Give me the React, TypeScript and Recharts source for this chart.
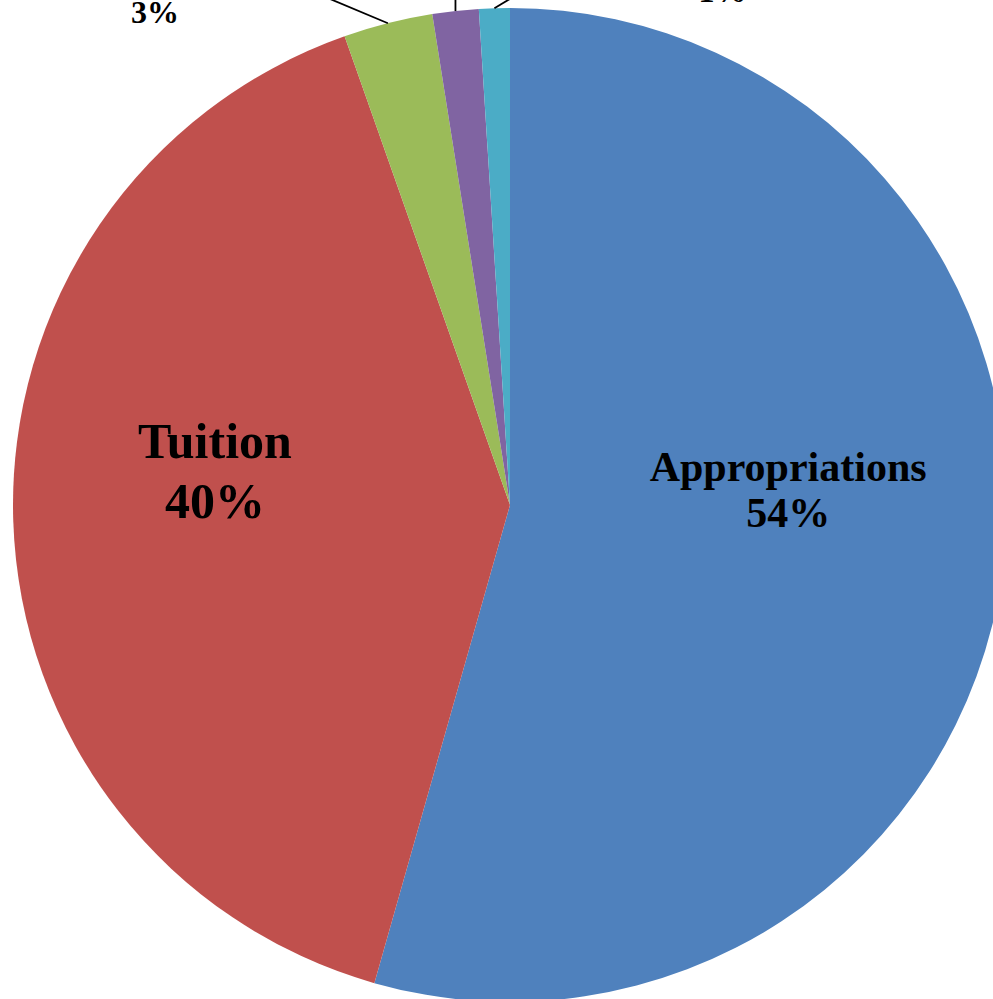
import React from 'react';
import { PieChart, Pie, Cell } from 'recharts';

const categories = ['Appropriations', 'Tuition', 'Grants', 'Gifts', 'Other'];
const shares = [54.4, 40.2, 2.9, 1.5, 1.0];
const colors = ['#4F81BD', '#C0504D', '#9BBB59', '#8064A2', '#4BACC6'];

const data = categories.map((name, i) => ({ name, value: shares[i] }));

const RADIAN = Math.PI / 180;
const SHIFT = 200; // chart is drawn taller and moved up so the top labels are cut off

// inner label placement for the two big slices
const inner: Record<number, { r: number; fs: number; d1: number; d2: number }> = {
  0: { r: 0.565, fs: 42, d1: -63, d2: 46 },
  1: { r: 0.594, fs: 50, d1: -56, d2: 60 }
};

// leader line ends and label spots for the thin slices, relative to the slice edge
const leaders: Record<number, { lx: number; ly: number; tx: number; ty: number }> = {
  2: { lx: -105, ly: -44, tx: -233, ty: 0 },
  3: { lx: 0, ly: -60, tx: 0, ty: -75 },
  4: { lx: 50, ly: -30, tx: 228, ty: -6 }
};

const serif = '"Liberation Serif", "DejaVu Serif", serif';

const renderLabel = (props: any) => {
  const { cx, cy, midAngle, outerRadius, percent, index, name } = props;
  const pct = `${Math.round(percent * 100)}%`;
  if (percent > 0.1) {
    const s = inner[index];
    const r = outerRadius * s.r;
    const x = cx + r * Math.cos(-midAngle * RADIAN);
    const y = cy + r * Math.sin(-midAngle * RADIAN);
    return (
      <text x={x} y={y} textAnchor="middle" fontFamily={serif} fontWeight="bold" fontSize={s.fs} fill="#000">
        <tspan x={x} dy={s.d1}>{name}</tspan>
        <tspan x={x} dy={s.d2}>{pct}</tspan>
      </text>
    );
  }
  const ex = cx + outerRadius * Math.cos(-midAngle * RADIAN);
  const ey = cy + outerRadius * Math.sin(-midAngle * RADIAN);
  const l = leaders[index];
  const tx = ex + l.tx;
  const ty = ey + l.ty;
  return (
    <g>
      <polyline points={`${ex},${ey} ${ex + l.lx},${ey + l.ly}`} stroke="#000" strokeWidth={1.8} fill="none" />
      <text x={tx} y={ty} textAnchor="middle" fontFamily={serif} fontWeight="bold" fontSize={32} fill="#000">
        <tspan x={tx} dy={-34}>{name}</tspan>
        <tspan x={tx} dy={34}>{pct}</tspan>
      </text>
    </g>
  );
};

export default function App() {
  return (
    <div style={{ position: 'absolute', left: 0, top: -SHIFT, width: 993, height: 999 + SHIFT, overflow: 'hidden', background: '#fff' }}>
      <PieChart width={993} height={999 + SHIFT}>
        <Pie
          data={data}
          dataKey="value"
          nameKey="name"
          cx={505}
          cy={500 + SHIFT}
          outerRadius={497}
          startAngle={90}
          endAngle={-270}
          stroke="none"
          label={renderLabel}
          labelLine={false}
          isAnimationActive={false}
        >
          {data.map((d, i) => (
            <Cell key={d.name} fill={colors[i]} />
          ))}
        </Pie>
      </PieChart>
    </div>
  );
}
